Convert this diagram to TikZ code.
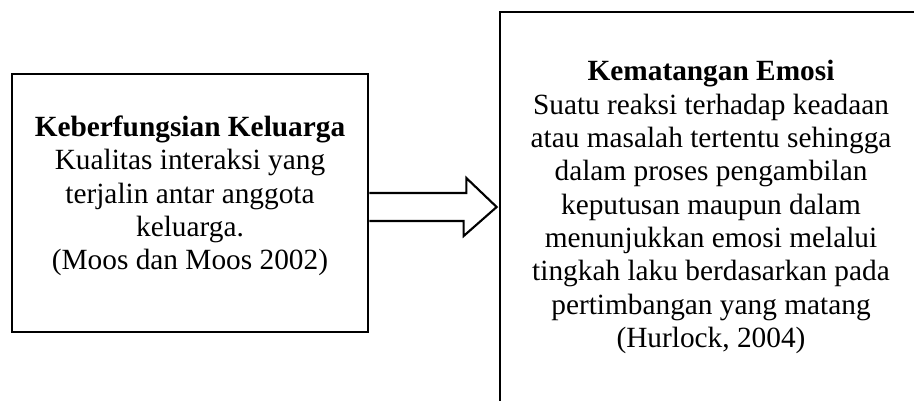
\documentclass[tikz,border=0pt]{standalone}
\usepackage{fontspec}
\setmainfont{Liberation Serif}
\usetikzlibrary{calc}
\tikzset{frame/.style={draw,line width=2pt,inner sep=0pt},
         txt/.style={align=center,inner sep=0pt,font=\fontsize{22}{25}\selectfont},
         blockarrow/.style={draw,line width=1.6pt,line join=miter}}

\begin{document}
\begin{tikzpicture}[x=0.75pt,y=-0.75pt]
\useasboundingbox (0,0) rectangle (914,400);
\clip (0,0) rectangle (914,400);
% boxes
\node[frame, minimum width=267pt, minimum height=193.5pt] (kel) at (190,203) {};
\node[frame, minimum width=316.5pt, minimum height=313.5pt] (emo) at (711,221) {};
% texts
\node[txt] (keltxt) at (190,196) {\textbf{Keberfungsian Keluarga}\\Kualitas interaksi yang\\terjalin antar anggota\\keluarga.\\(Moos dan Moos 2002)};
\node[txt] (emotxt) at (711,207) {\textbf{Kematangan Emosi}\\Suatu reaksi terhadap keadaan\\atau masalah tertentu sehingga\\dalam proses pengambilan\\keputusan maupun dalam\\menunjukkan emosi melalui\\tingkah laku berdasarkan pada\\pertimbangan yang matang\\(Hurlock, 2004)};
% block arrow
\draw[blockarrow] ($(kel.east)+(0,-10)$) -- ++(97,0) -- ++(0,-15) -- ($(emo.west)+(-2,-14)$) -- ++(-33,29) -- ++(0,-15) -- ($(kel.east)+(0,18)$);
\end{tikzpicture}
\end{document}
